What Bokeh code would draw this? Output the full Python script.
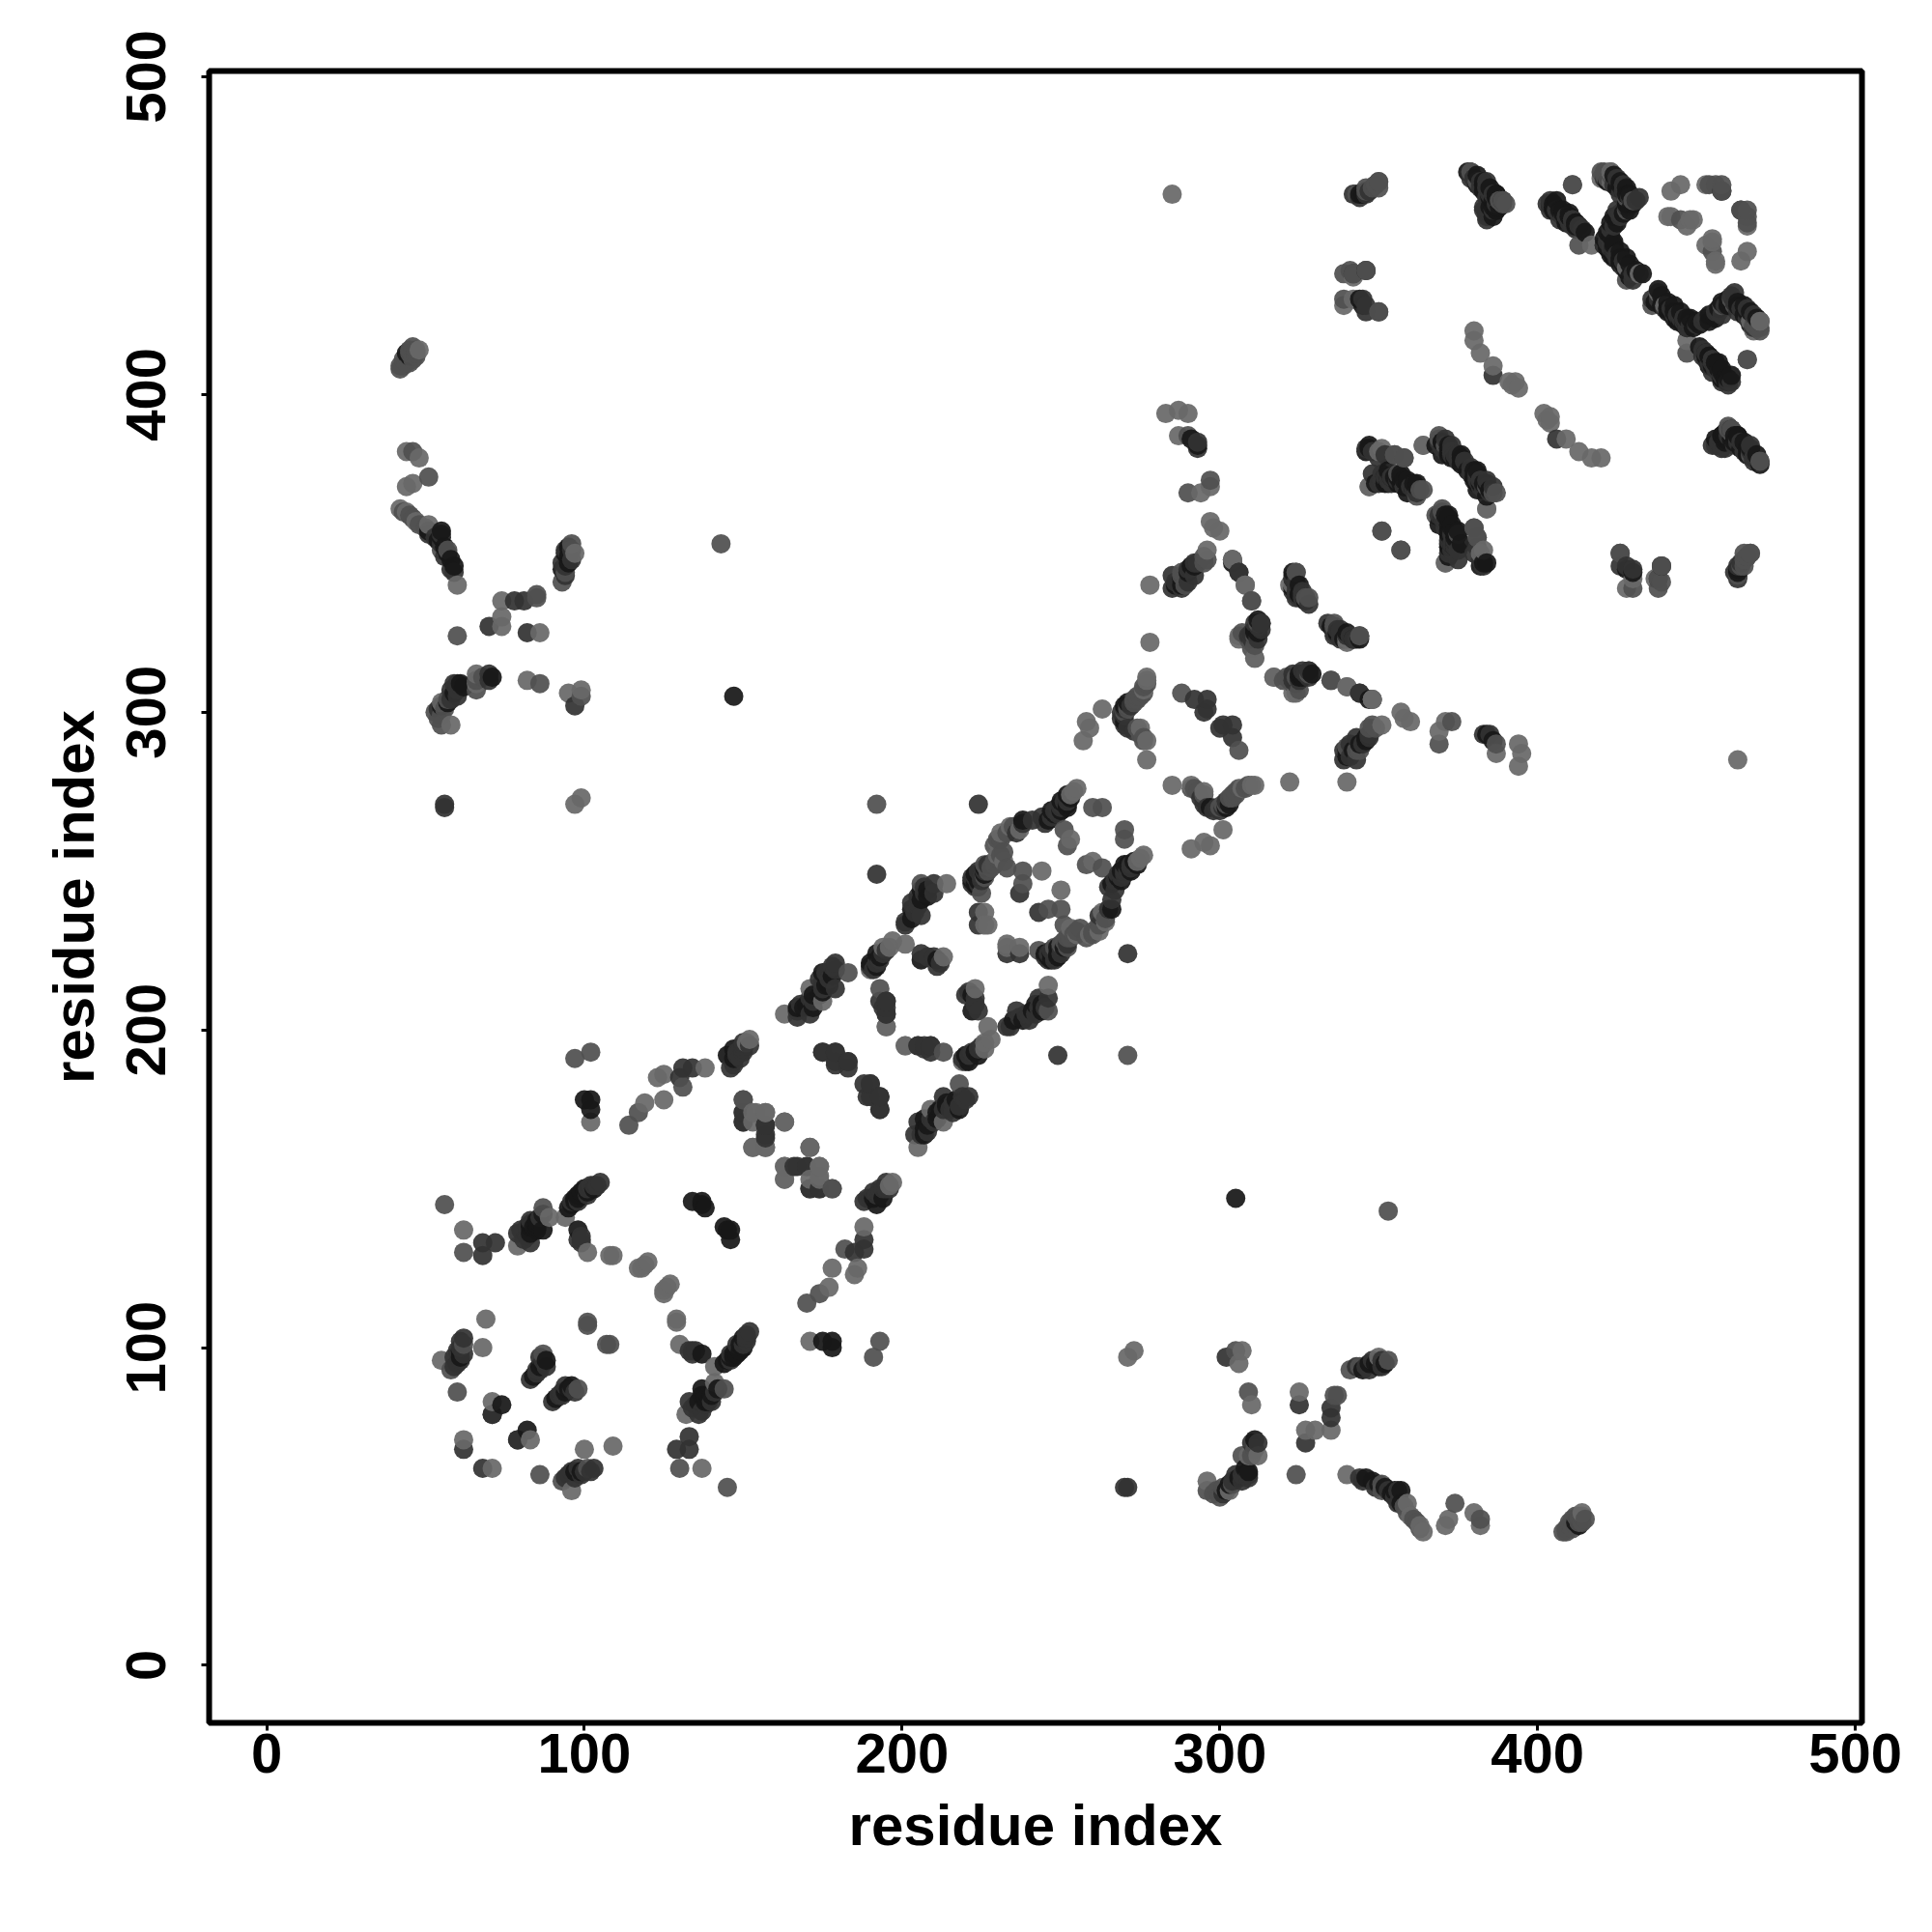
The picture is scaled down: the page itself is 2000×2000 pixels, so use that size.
from bokeh.plotting import figure
from bokeh.models import Range1d, FixedTicker
from bokeh.embed import file_html
from bokeh.resources import INLINE

tick_values = [0, 100, 200, 300, 400, 500]
axis_title = "residue index"

# residue contacts (one index, other index), grouped by grey level; the map is symmetric
contacts_light = [(71,62),(83,71),(96,55),(100,68),(109,69),(129,108),(129,109),(130,101),(141,89),(141,94),(132,79),(137,62),(125,118),(127,120),(126,119),(125,117),
(171,102),(188,138),(186,125),(185,123),(178,125),(177,119),(197,152),(196,151),(157,174),(153,174),(153,163),(157,163),(171,163),(174,157),(171,153),(163,157),(163,153),(174,154),
(205,163),(209,175),(213,171),(219,190),(226,194),(228,197),(227,201),(226,196),(233,226),(237,226),(233,227),(246,214),(223,213),(201,195),(195,201),(250,244),(263,237),(264,234),(262,231),(259,230),(255,230),(253,232),(260,253),(275,254),(276,255),(274,253),
(311,277),(310,277),(307,276),(301,263),(297,258),(291,257),(295,259),(285,277),(291,277),(295,275),(322,278),(340,278),(351,296),(357,300),(360,297),(358,298),(371,297),(369,294),(394,290),(395,287),(394,283),(387,287),(340,308),(348,304),(340,322),(323,306),(317,311),(311,317),(306,324),(308,340),(304,348),(323,340),
(364,384),(350,382),(347,371),(371,347),(384,364),(383,351),(402,394),(404,393),(403,392),(404,391),(420,380),(417,380),(413,382),(409,386),(464,442),(466,445),(456,442),(455,449),(455,448),(456,441),(453,447),(466,453),(468,420),(470,423),(447,417),(438,432),(440,428),
(463,285),(273,99),(271,97),(307,99),(306,95),(310,82),(325,86),(335,74),(330,74),(327,74),(340,60),(296,58),(350,97),(309,66),(312,66),(303,55),(359,51),(360,47),(363,44),(364,42),(371,44),(372,46),(380,48),(382,44),(414,48),(430,342),(428,339),(437,342),(467,423)]

contacts_mid = [(86,60),(93,58),(101,62),(98,87),(145,56),(130,62),(144,87),(108,101),(107,101),(193,102),(191,97),(182,131),(174,117),(170,114),(178,150),(150,178),(163,171),(218,183),(213,193),(246,206),(250,238),(246,238),(254,230),(251,233),(260,230),(243,225),(248,226),(252,226),(253,229),(263,251),(258,252),(270,263),(270,260),(271,302),(304,273),(295,274),(291,276),(305,274),(344,324),(310,335),(328,336),(327,336),(312,328),(311,321),(311,324),(355,381),(358,380),(363,370),(351,357),(357,351),(369,386),(387,369),(384,371),(380,358),(381,355),(375,356),(370,364),(368,362),(373,297),(369,290),(335,310),(344,288),(306,288),(387,290),(466,411),(447,413),(455,445),(461,430),(458,428),(470,379),(467,381),(460,389),(461,388),(465,350),(467,350),(465,346),(430,339),(426,350),(438,339),(438,342),(466,349),(309,86),(336,85),(337,85),(305,99),(324,60),(374,51),(382,46),(351,57),(351,55),(341,93),(344,94),(353,143),(413,45),(410,44),(408,42),(300,53),(304,57),(296,55),(347,295),(304,348),(271,192),(353,96),(439,346),(463,343),(464,346),(466,458),(466,456),(466,454),(464,458),(411,466),(428,462),(436,428),(288,343),(439,341),(289,340),
(298,54),(299,55),(301,56),(307,66),(310,66),(311,68),(258,229),(260,231),(262,233),(264,235),(255,231),(256,232),(252,229),(251,228),(250,227),(300,270),(301,271),(303,273),(304,274),(305,275),(306,276),(308,276),(309,277),(292,276),(293,275),(322,310),(320,310),(323,309),(325,307),(409,42),(411,43),(412,44),(414,45),(414,47),(415,46),(409,43),(410,45),(411,46),(412,47),(413,47),(358,50),(359,48),(361,46),(362,45),(363,43),(348,465),(349,466),(350,467),(390,460),(389,461),(469,421),(470,420),(470,421),(469,423),(468,422),(348,296),(349,295)]

contacts_dark = [(68,62),(79,71),(94,88),(92,85),(93,86),(95,60),(96,61),(98,62),(99,60),(133,99),(136,79),(133,72),(133,68),(129,68),(133,83),(134,99),(140,83),(146,98),(148,101),(151,104),(151,103),(150,101),(188,134),(185,130),(188,131),(188,146),(190,147),(192,148),(194,150),(195,150),(174,150),(171,150),(166,157),(170,157),(157,167),(157,170),(150,171),(150,174),(204,167),(205,171),(210,171),(208,168),(215,175),(218,176),(221,179),(213,179),
(249,192),(271,224),(246,210),(243,210),(242,205),(239,205),(236,206),(233,201),(222,193),(224,194),(220,190),(209,195),(205,195),(195,205),(195,209),(193,209),(223,210),(224,206),(220,211),(183,190),(179,193),(175,193),(179,190),(190,183),(188,183),(193,179),(189,179),(193,175),(272,251),(271,250),(270,249),(269,248),(267,244),(265,238),(262,236),(237,224),(233,224),(243,237),(246,224),(248,222),(250,226),(248,225),
(301,270),(300,269),(295,271),(304,292),(304,296),(300,295),(301,296),(347,292),(343,292),(339,288),(339,285),(343,285),(383,293),(385,293),(344,306),(328,313),(324,311),(340,324),(337,326),(334,328),(337,324),(338,326),(344,324),(336,327),(325,336),(313,328),(309,324),(344,306),
(383,346),(374,352),(375,381),(371,384),(373,382),(381,374),(371,360),(375,351),(373,351),(380,350),(426,346),(428,346),(430,345),(463,346),(463,342),(463,343),(403,460),(406,458),(409,456),(411,455),(413,453),(470,379),(468,380),(467,382),(465,384),(463,386),(461,388),(406,386),(456,384),(458,386),
(452,412),(454,410),(456,408),(458,406),(460,404),(452,423),(456,426),(447,423),(442,427),(445,424),(447,421),(446,424),(444,425),(455,384),(457,385),(461,389),(464,385),(467,384),(302,97),(325,82),(335,81),(335,78),(327,70),(344,59),(356,55),(356,51),(270,56),(271,56),(310,70),(312,70),(309,60),(305,60),(307,58),(346,94),(351,94),(348,96),(439,346),(438,342),(463,343),(426,350),(439,346),
(90,83),(93,85),(94,59),(102,61),(103,62),(146,96),(151,102),(152,105),(138,82),(137,80),(141,86),(135,82),(134,81),(135,99),(134,98),(189,147),(191,149),(193,148),(193,150),(196,150),(195,152),(206,167),(209,172),(213,175),(216,177),(219,179),(220,178),(216,174),(219,191),(221,192),(225,195),(234,201),(237,204),(240,205),(243,207),(245,207),(240,203),(195,207),(194,207),(221,212),(223,208),(268,249),(270,250),(272,252),(267,247),(265,245),(246,222),(248,223),(250,224),(252,227),(247,225),(245,223),(266,241),(302,272),(294,273),(296,270),(298,269),(299,270),(336,324),(338,323),(341,324),(343,323),(324,338),(326,336),(323,342),(313,326),(312,323),(310,323),(325,310),(327,312),(328,311),(341,286),(341,290),(345,290),(347,293),(353,373),(354,372),(358,371),(361,370),(369,385),(371,382),(373,381),(375,379),(377,379),(382,373),(384,373),(386,371),(383,370),(369,362),(371,358),(373,356),(374,354),(372,350),(375,348),(381,352),(382,348),(458,383),(460,387),(462,384),(465,382),(468,380),(459,383),(453,411),(457,407),(461,404),(455,411),(438,430),(440,427),(443,425),(446,423),(448,422),(450,422),(436,430),(453,424),(457,426),(459,428),(462,429),(464,427),(466,424),(463,426),(421,468),(423,470),(425,468),(427,466),(429,462),(431,461),(425,458),(432,462),(404,458),(407,457),(410,455),(414,452),(407,455),(381,467),(385,463),(389,461),(385,457),(384,457),(379,468),(344,462),(347,464),(301,54),(304,58),(307,60),(309,59),(343,94),(347,93),(351,96),(345,58),(349,56),(353,55),(355,53),(97,59),(100,61),(96,87),(97,86)]

contacts_black = [(82,74),(71,79),(91,84),(95,87),(97,61),(136,83),(137,87),(140,85),(144,95),(145,96),(146,97),(147,98),(137,98),(146,134),(146,137),(145,137),(144,138),(178,102),(175,102),(178,100),(192,145),(194,147),(212,175),(214,177),(211,172),(207,169),(247,222),(245,224),(268,248),(270,252),(272,250),(266,238),(305,147),(347,304),(346,292),(344,290),(340,286),(340,288),(384,293),(386,291),(347,383),(356,374),(357,375),(359,373),(361,372),(372,362),(373,358),(374,355),(372,353),(376,381),(372,384),(378,376),(428,345),(430,344),(463,344),(405,460),(407,458),(410,456),(412,454),(421,447),(424,446),(426,443),(430,461),(427,457),(423,454),(426,466),(427,464),(429,463),(448,424),(450,423),(454,412),(456,410),(458,408),(464,458),(469,381),(467,383),(465,385),(463,387),(456,386),(458,387),(462,385),(459,387),(348,58),(352,56),(355,55),(357,55),(303,57),(309,61),(347,95),(350,94),(274,252),
(99,61),(147,97),(148,98),(149,99),(150,100),(149,101),(150,103),(138,84),(139,85),(142,87),(138,83),(139,83),(137,85),(138,85),(191,147),(207,167),(208,170),(211,174),(214,176),(217,178),(218,175),(207,172),(220,192),(223,193),(224,192),(221,190),(235,203),(238,203),(241,206),(244,208),(244,206),(242,208),(222,211),(222,206),(269,250),(271,252),(273,253),(269,247),(266,246),(246,223),(247,224),(249,224),(249,226),(251,226),(249,223),(302,270),(303,271),(297,270),(337,325),(339,323),(342,323),(325,337),(327,335),(325,340),(323,344),(312,325),(311,325),(326,311),(329,312),(342,288),(346,291),(354,374),(356,372),(357,374),(359,372),(362,371),(352,372),(370,385),(372,382),(374,380),(376,380),(370,381),(368,384),(383,372),(385,370),(380,373),(381,372),(370,361),(372,357),(374,352),(376,353),(372,349),(369,359),(373,353),(384,347),(382,346),(459,385),(461,386),(464,383),(466,381),(463,387),(455,409),(459,405),(461,406),(453,413),(457,410),(439,428),(441,426),(444,423),(447,424),(449,421),(451,422),(437,429),(454,425),(458,429),(460,428),(463,428),(465,425),(467,423),(422,467),(424,469),(426,467),(428,465),(430,460),(428,460),(424,456),(405,458),(408,457),(412,453),(415,451),(404,460),(409,454),(383,466),(387,462),(386,459),(387,458),(388,459),(378,470),(345,463),(302,55),(306,59),(308,62),(345,93),(349,95),(352,95),(346,59),(350,57),(354,54),(357,51),(412,45),(413,44),(311,71),(94,86),(96,88),(429,441),(428,443),(426,445),(431,439),(433,438),(427,441),(445,423),(446,422),(443,424),(444,424),(442,426),(441,427)]

def both_sides(contacts, colour):
    xs, ys, cols = [], [], []
    for a, b in contacts:
        xs += [a, b]
        ys += [b, a]
        cols += [colour, colour]
    return xs, ys, cols

rows = []
for group, colour in [(contacts_black, "#181818"), (contacts_dark, "#333333"), (contacts_mid, "#505050"), (contacts_light, "#686868")]:
    xs, ys, cols = both_sides(group, colour)
    rows += list(zip(xs, ys, cols))
rows.sort(key=lambda r: (r[0], r[1]))
x = [r[0] for r in rows]
y = [r[1] for r in rows]
c = [r[2] for r in rows]

p = figure(width=1992, height=1992, output_backend="svg", toolbar_location=None,
           x_range=Range1d(-18.1, 502.1), y_range=Range1d(-18.1, 501.8),
           frame_width=1711, frame_height=1710, min_border_left=216, min_border_top=73,
           min_border_right=65, min_border_bottom=150,
           x_axis_label=axis_title, y_axis_label=axis_title)
p.grid.visible = False
p.outline_line_color = "black"
p.outline_line_width = 6
p.scatter(x, y, size=20, fill_color=c, line_color=None, fill_alpha=0.93)
for ax in (p.xaxis[0], p.yaxis[0]):
    ax.ticker = FixedTicker(ticks=tick_values)
    ax.axis_line_color = None
    ax.minor_tick_line_color = None
    ax.major_tick_line_color = "black"
    ax.major_tick_line_width = 3
    ax.major_tick_in = 0
    ax.major_tick_out = 8
    ax.major_label_text_font = "Liberation Sans"
    ax.major_label_text_font_style = "bold"
    ax.major_label_text_font_size = "58px"
    ax.major_label_text_color = "black"
    ax.axis_label_text_font = "Liberation Sans"
    ax.axis_label_text_font_style = "bold"
    ax.axis_label_text_font_size = "60px"
    ax.axis_label_text_color = "black"
p.xaxis[0].major_label_standoff = 3
p.xaxis[0].axis_label_standoff = 18
p.yaxis[0].major_label_orientation = "vertical"
p.yaxis[0].major_label_standoff = 37
p.yaxis[0].axis_label_standoff = 19

open("out.html", "w").write(file_html(p, INLINE))
